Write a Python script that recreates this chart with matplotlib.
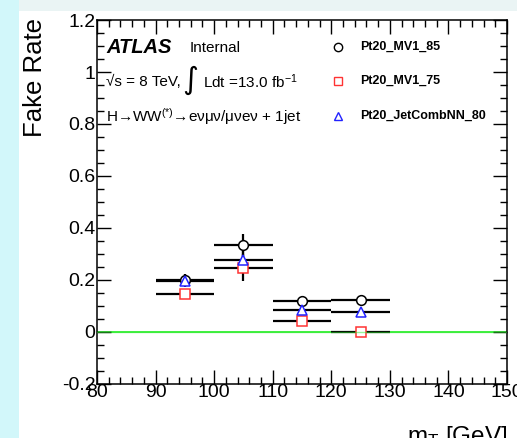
import matplotlib
matplotlib.use("Agg")
import matplotlib.pyplot as plt
from matplotlib.patches import Rectangle
from matplotlib.ticker import MultipleLocator, FixedLocator

plt.rcParams['font.family'] = ['Liberation Sans', 'DejaVu Sans']
plt.rcParams['mathtext.fontset'] = 'custom'
plt.rcParams['mathtext.rm'] = 'Liberation Sans'
plt.rcParams['mathtext.it'] = 'Liberation Sans:italic'

# Data
bin_centers = [95, 105, 115, 125]
bin_halfwidth = [5, 5, 5, 5]
mv1_85 = [0.200, 0.334, 0.118, 0.122]
mv1_85_err = [0.022, 0.043, 0.008, 0.005]
mv1_75 = [0.148, 0.248, 0.043, 0.0]
mv1_75_err = [0.019, 0.052, 0.007, 0.0]
nn_80 = [0.198, 0.277, 0.086, 0.077]
nn_80_err = [0.024, 0.040, 0.008, 0.006]
labels = ["Pt20_MV1_85", "Pt20_MV1_75", "Pt20_JetCombNN_80"]
yticks = [-0.2, 0, 0.2, 0.4, 0.6, 0.8, 1, 1.2]
ytick_labels = ["-0.2", "0", "0.2", "0.4", "0.6", "0.8", "1", "1.2"]
xticks = [80, 90, 100, 110, 120, 130, 140, 150]

W, H = 517, 438
fig = plt.figure(figsize=(W / 100, H / 100), dpi=100, facecolor='#eaf4f4')
fig.patches.append(Rectangle((0, 0), 19 / W, 1, transform=fig.transFigure,
                             facecolor='#d2f7fa', edgecolor='none', zorder=-10))
fig.patches.append(Rectangle((19 / W, 0), 1, (H - 11) / H, transform=fig.transFigure,
                             facecolor='white', edgecolor='none', zorder=-10))

ax = fig.add_axes([97 / W, 54 / H, 410 / W, 364 / H])
ax.set_zorder(5)
ax.set_facecolor('none')
ax.set_xlim(80, 150)
ax.set_ylim(-0.2, 1.2)

ax.axhline(0, color='#33ee33', lw=1.3, zorder=1)

common = dict(mfc='white', mew=1.1, ms=7, ecolor='black', elinewidth=1.6,
              capsize=0, zorder=3)
ax.errorbar(bin_centers, mv1_85, xerr=bin_halfwidth, yerr=mv1_85_err, fmt='o',
            mec='black', **common)
ax.errorbar(bin_centers, mv1_75, xerr=bin_halfwidth, yerr=mv1_75_err, fmt='s',
            mec='#ff3333', **common)
ax.errorbar(bin_centers, nn_80, xerr=bin_halfwidth, yerr=nn_80_err, fmt='^',
            mec='#2222ff', **common)
ax.axhline(0, color='#33ee33', lw=1.0, alpha=0.5, zorder=4)

ax.xaxis.set_major_locator(FixedLocator(xticks))
ax.xaxis.set_minor_locator(MultipleLocator(2))
ax.yaxis.set_major_locator(FixedLocator(yticks))
ax.yaxis.set_minor_locator(MultipleLocator(0.05))
ax.set_yticklabels(ytick_labels)
ax.tick_params(which='both', direction='in', top=True, right=True, labelsize=14,
               width=1.0, colors='black')
ax.tick_params(which='major', length=10)
ax.tick_params(which='minor', length=5)
ax.tick_params(axis='y', pad=1)
ax.tick_params(axis='x', pad=0)
for s in ax.spines.values():
    s.set_linewidth(1.1)

fig.text(35 / W, (H - 18) / H, "Fake Rate", rotation=90, ha='center', va='top',
         fontsize=18.5)
fig.text(507 / W, (H - 424) / H, r"m$_{\rm T}$ [GeV]", ha='right', va='top',
         fontsize=17.5)


def px(x, y):
    return ((x - 97) / 410, (384 - y) / 364)


ax.text(*px(106, 47), "ATLAS", transform=ax.transAxes, fontsize=14.5,
        fontweight='bold', style='italic', va='center', ha='left')
ax.text(*px(190, 48), "Internal", transform=ax.transAxes, fontsize=11,
        va='center', ha='left')
ax.text(*px(106, 82), "√s = 8 TeV,", transform=ax.transAxes, fontsize=11,
        va='center', ha='left')
ax.text(*px(190, 80), "∫", transform=ax.transAxes, fontsize=22,
        va='center', ha='center', family=['DejaVu Sans'])
ax.text(*px(203, 82), r"Ldt =13.0 fb$^{-1}$", transform=ax.transAxes, fontsize=11,
        va='center', ha='left')
ax.text(*px(106, 117), r"H→WW$^{(*)}$→eνμν/μνeν + 1jet",
        transform=ax.transAxes, fontsize=11, va='center', ha='left')

leg_rows = [47, 81, 116]
markers = [('o', 'black'), ('s', '#ff3333'), ('^', '#2222ff')]
for (m, c), yy, lab in zip(markers, leg_rows, labels):
    ax.plot([px(338, yy)[0]], [px(338, yy)[1]], marker=m, transform=ax.transAxes,
            mfc='white', mec=c, mew=1.0, ms=6, ls='none', clip_on=False)
    ax.text(*px(360, yy), lab, transform=ax.transAxes, fontsize=9,
            fontweight='bold', va='center', ha='left')

fig.savefig("out.png", dpi=100, facecolor=fig.get_facecolor())
